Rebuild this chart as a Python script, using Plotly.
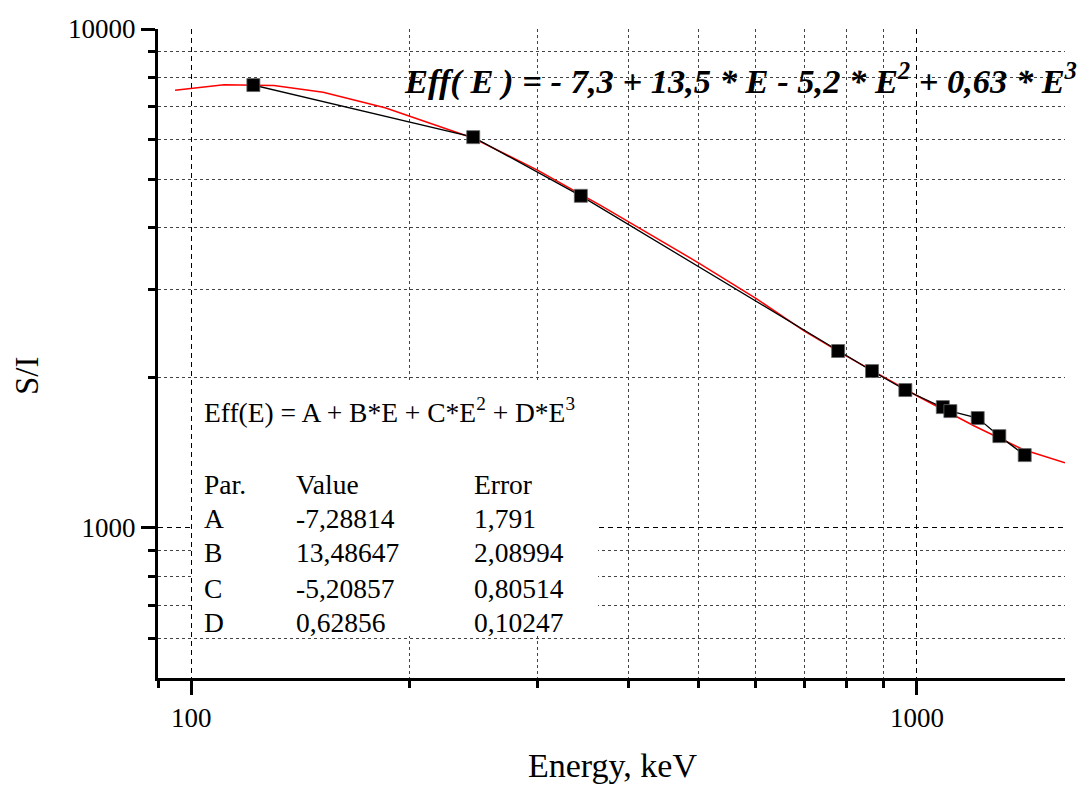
import math
import plotly.graph_objects as go

# ---------------- data ----------------
energy = [121.8, 244.7, 344.3, 778.9, 867.4, 964.1, 1085.8, 1112.1, 1212.9, 1299.1, 1408.0]
si = [7720, 6070, 4630, 2262, 2062, 1889, 1746, 1714, 1660, 1527, 1399]

fit_energy = [95, 111, 130, 152, 185, 245, 300, 366, 500, 600, 700, 800, 1000, 1200, 1400, 1600]
fit_si = [7540, 7730, 7700, 7470, 6955, 6040, 5215, 4437, 3399, 2884, 2480, 2210, 1840, 1600, 1436, 1350]

x_major = [100, 1000]
x_major_text = ["100", "1000"]
x_minor = [90, 200, 300, 400, 500, 600, 700, 800, 900]
y_major = [1000, 10000]
y_major_text = ["1000", "10000"]
y_minor = [600, 700, 800, 900, 2000, 3000, 4000, 5000, 6000, 7000, 8000, 9000]

params = ["A", "B", "C", "D"]
param_values = ["-7,28814", "13,48647", "-5,20857", "0,62856"]
param_errors = ["1,791", "2,08994", "0,80514", "0,10247"]

title_text = "<b><i>Eff( E ) = - 7,3 + 13,5 * E - 5,2 * E<sup>2</sup> + 0,63 * E<sup>3</sup></i></b>"
model_text = "Eff(E) = A + B*E + C*E<sup>2</sup> + D*E<sup>3</sup>"

# ---------------- layout geometry ----------------
L, R, T, B = 158, 1065, 29, 678
W, H = 1082, 787
PW, PH = R - L, B - T


def px(x):
    return (x - L) / PW


def py(y):
    return (B - y) / PH


FONT = "Liberation Serif, Times New Roman, serif"

fig = go.Figure()
fig.add_trace(go.Scatter(x=fit_energy, y=fit_si, mode="lines",
                         line=dict(color="#ff0000", width=1.5), showlegend=False))
fig.add_trace(go.Scatter(x=energy, y=si, mode="lines+markers",
                         line=dict(color="black", width=1.3),
                         marker=dict(symbol="square", size=13, color="black",
                                     line=dict(color="#666666", width=0.8)),
                         showlegend=False))

axis_common = dict(
    type="log",
    showline=True, linecolor="black", linewidth=3,
    ticks="outside", ticklen=14, tickwidth=3, tickcolor="black",
    tickfont=dict(family=FONT, size=27, color="black"),
    showgrid=True, gridcolor="black", gridwidth=1, griddash="5px,4px",
    zeroline=False, mirror=False, tickmode="array",
)

fig.update_xaxes(
    **axis_common,
    range=[math.log10(90), math.log10(1600)],
    tickvals=x_major, ticktext=x_major_text,
    minor=dict(tickmode="array", tickvals=x_minor, ticks="outside", ticklen=7,
               tickwidth=3, tickcolor="black", showgrid=True,
               gridcolor="#444444", gridwidth=1, griddash="3px,3px"),
)
fig.update_yaxes(
    **axis_common,
    range=[math.log10(500), 4],
    tickvals=y_major, ticktext=y_major_text,
    minor=dict(tickmode="array", tickvals=y_minor, ticks="outside", ticklen=7,
               tickwidth=3, tickcolor="black", showgrid=True,
               gridcolor="#444444", gridwidth=1, griddash="3px,3px"),
)

shapes = [dict(type="rect", xref="paper", yref="paper", layer="above",
               x0=px(193), x1=px(598), y0=py(636), y1=py(383),
               fillcolor="white", line=dict(width=0))]

ann = []
ann.append(dict(text=title_text, x=px(402), y=py(79), xref="paper", yref="paper",
                xanchor="left", yanchor="middle", showarrow=False,
                font=dict(family=FONT, size=34.5, color="black")))
ann.append(dict(text=model_text, x=px(202), y=py(410), xref="paper", yref="paper",
                xanchor="left", yanchor="middle", showarrow=False,
                font=dict(family=FONT, size=27.5, color="black")))
row_y = [484, 518, 552.5, 588, 622]
cols = [202, 294, 472]
header = ["Par.", "Value", "Error"]
for c, t in zip(cols, header):
    ann.append(dict(text=t, x=px(c), y=py(row_y[0]), xref="paper", yref="paper",
                    xanchor="left", yanchor="middle", showarrow=False,
                    font=dict(family=FONT, size=27.5, color="black")))
for i in range(len(params)):
    for c, t in zip(cols, [params[i], param_values[i], param_errors[i]]):
        ann.append(dict(text=t, x=px(c), y=py(row_y[i + 1]), xref="paper", yref="paper",
                        xanchor="left", yanchor="middle", showarrow=False,
                        font=dict(family=FONT, size=27.5, color="black")))
ann.append(dict(text="Energy, keV", x=px(612), y=py(765), xref="paper", yref="paper",
                xanchor="center", yanchor="middle", showarrow=False,
                font=dict(family=FONT, size=34, color="black")))
ann.append(dict(text="S/I", x=px(27), y=py(376), xref="paper", yref="paper",
                xanchor="center", yanchor="middle", showarrow=False, textangle=-90,
                font=dict(family=FONT, size=33, color="black")))

fig.update_layout(
    width=W, height=H,
    margin=dict(l=L, r=W - R, t=T, b=H - B),
    paper_bgcolor="white", plot_bgcolor="white",
    shapes=shapes, annotations=ann,
    font=dict(family=FONT, color="black"),
    showlegend=False,
)

fig.write_html("out.html", config={"displayModeBar": False})
